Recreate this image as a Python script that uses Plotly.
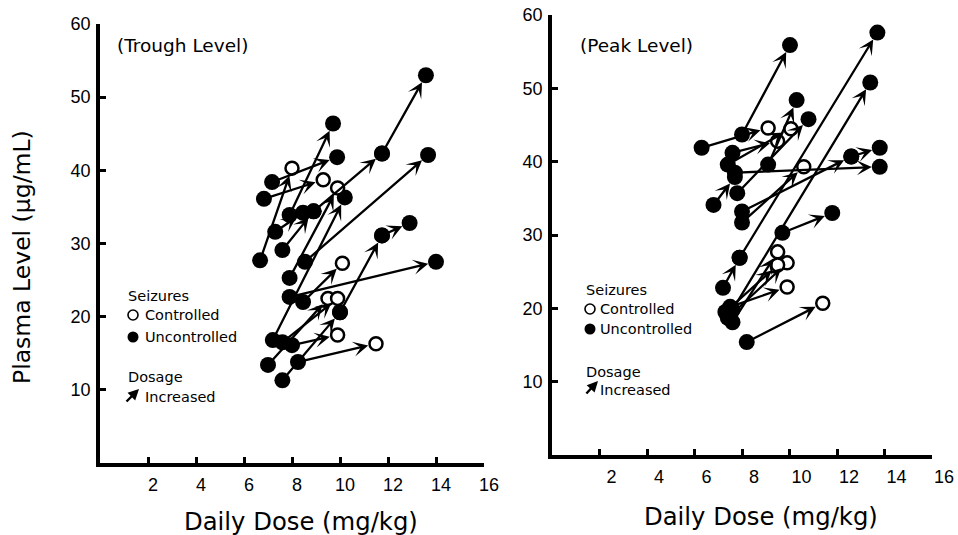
import plotly.graph_objects as go

# ---------------- DATA ----------------
# Trough level panel: each arrow = dose increase (start -> end)
trough_x0 = [6.67, 6.83, 7.17, 7.90, 7.30, 7.60, 8.90, 11.75, 8.54, 11.75, 10.0, 7.90, 7.20, 8.00, 8.46, 7.00, 7.60, 8.25, 7.90, 7.60]
trough_y0 = [27.7, 36.1, 38.4, 33.9, 31.6, 29.1, 34.4, 42.3, 27.5, 31.1, 20.6, 22.7, 16.8, 16.1, 22.0, 13.4, 11.3, 13.8, 25.3, 16.5]
trough_x1 = [8.00, 9.30, 9.88, 9.71, 8.46, 8.90, 11.75, 13.58, 13.67, 12.90, 11.75, 14.00, 10.20, 9.90, 10.10, 9.50, 10.00, 11.50, 9.90, 9.90]
trough_y1 = [40.3, 38.7, 41.8, 46.4, 34.2, 34.4, 42.3, 53.0, 42.1, 32.8, 31.1, 27.5, 36.3, 17.5, 27.3, 22.5, 20.6, 16.3, 37.6, 22.5]
trough_end_controlled = [True, True, False, False, False, False, False, False, False, False, False, False, False, True, True, True, False, True, True, True]

# Peak level panel
peak_x0 = [8.2, 7.5, 7.4, 7.6, 7.3, 7.2, 7.9, 7.6, 9.7, 8.0, 8.0, 12.6, 7.7, 6.8, 6.3, 7.6, 8.0, 9.1, 7.4, 7.8]
peak_y0 = [15.4, 20.2, 18.7, 18.1, 19.5, 22.8, 26.9, 19.8, 30.3, 31.7, 33.2, 40.7, 38.5, 34.1, 41.9, 41.2, 43.7, 39.6, 39.6, 35.7]
peak_x1 = [11.4, 9.9, 9.9, 9.5, 9.5, 7.9, 13.7, 13.4, 11.8, 10.6, 12.6, 13.8, 13.8, 7.7, 9.1, 9.5, 10.02, 10.3, 10.06, 10.8]
peak_y1 = [20.7, 22.9, 26.2, 27.7, 25.9, 26.9, 57.6, 50.8, 33.0, 39.3, 40.7, 41.9, 39.3, 37.9, 44.6, 42.8, 55.9, 48.4, 44.5, 45.8]
peak_end_controlled = [True, True, True, True, True, False, False, False, False, True, False, False, False, False, True, True, False, False, True, False]

x_ticks = [2, 4, 6, 8, 10, 12, 14, 16]
y_ticks = [10, 20, 30, 40, 50, 60]

panel_titles = ["(Trough Level)", "(Peak Level)"]
x_title = "Daily Dose (mg/kg)"
y_title = "Plasma Level (µg/mL)"

# ---------------- FIGURE ----------------
W, H = 958, 535
FONT = "Liberation Sans, Arial, Helvetica, sans-serif"
TFONT = "DejaVu Sans, sans-serif"

fig = go.Figure()

def px_x(p):
    return p / W

def px_y(p):
    return (H - p) / H

panels = [
    dict(xa="x", ya="y", x0=trough_x0, y0=trough_y0, x1=trough_x1, y1=trough_y1, ctrl=trough_end_controlled),
    dict(xa="x2", ya="y2", x0=peak_x0, y0=peak_y0, x1=peak_x1, y1=peak_y1, ctrl=peak_end_controlled),
]

annotations = []
shapes = []
for p in panels:
    for a, b, c, d, ctl in zip(p["x0"], p["y0"], p["x1"], p["y1"], p["ctrl"]):
        annotations.append(dict(
            x=c, y=d, ax=a, ay=b, xref=p["xa"], yref=p["ya"], axref=p["xa"], ayref=p["ya"],
            showarrow=True, arrowhead=3, arrowsize=1.1, arrowwidth=2.3, arrowcolor="black",
            standoff=8, text=""))
    filled_x = list(p["x0"]) + [c for c, ctl in zip(p["x1"], p["ctrl"]) if not ctl]
    filled_y = list(p["y0"]) + [d for d, ctl in zip(p["y1"], p["ctrl"]) if not ctl]
    open_x = [c for c, ctl in zip(p["x1"], p["ctrl"]) if ctl]
    open_y = [d for d, ctl in zip(p["y1"], p["ctrl"]) if ctl]
    fig.add_trace(go.Scatter(x=filled_x, y=filled_y, mode="markers", xaxis=p["xa"], yaxis=p["ya"],
                             marker=dict(size=16, color="black"), showlegend=False, hoverinfo="skip"))
    fig.add_trace(go.Scatter(x=open_x, y=open_y, mode="markers", xaxis=p["xa"], yaxis=p["ya"],
                             marker=dict(size=13, color="white", line=dict(color="black", width=2.5)),
                             showlegend=False, hoverinfo="skip"))

axis_common = dict(showgrid=False, zeroline=False, showline=True, linecolor="black", linewidth=3.5,
                   ticks="inside", tickcolor="black", tickwidth=3, ticklen=6,
                   tickfont=dict(family=FONT, size=18, color="black"))

fig.update_layout(
    width=W, height=H, autosize=False,
    margin=dict(l=0, r=0, t=0, b=0, pad=0, autoexpand=False),
    paper_bgcolor="white", plot_bgcolor="white",
    xaxis=dict(domain=[px_x(100), px_x(484)], range=[0, 16], tickvals=x_ticks, anchor="y",
               ticklabelshift=5, ticklabelstandoff=3, **axis_common),
    yaxis=dict(domain=[px_y(463), px_y(24)], range=[0, 60], tickvals=y_ticks, anchor="x",
               ticklabelstandoff=2, **axis_common),
    xaxis2=dict(domain=[px_x(552), px_x(932)], range=[0, 16], tickvals=x_ticks, anchor="y2",
                ticklabelshift=12, ticklabelstandoff=3, **axis_common),
    yaxis2=dict(domain=[px_y(455), px_y(15)], range=[0, 60], tickvals=y_ticks, anchor="x2",
                ticklabelstandoff=2, **axis_common),
)

def txt(x, y, s, size, xanchor="left", angle=0):
    annotations.append(dict(x=px_x(x), y=px_y(y), xref="paper", yref="paper", text=s, showarrow=False,
                            xanchor=xanchor, yanchor="middle", textangle=angle,
                            font=dict(family=TFONT, size=size, color="black")))

def circ(cx, cy, r, filled):
    shapes.append(dict(type="circle", xref="paper", yref="paper",
                       x0=px_x(cx - r), x1=px_x(cx + r), y0=px_y(cy + r), y1=px_y(cy - r),
                       fillcolor="black" if filled else "white",
                       line=dict(color="black", width=0 if filled else 1.6)))

# axis titles
txt(22, 257, y_title, 23.5, xanchor="center", angle=-90)
txt(301, 521, x_title, 24.3, xanchor="center")
txt(761, 516, x_title, 24.3, xanchor="center")
# panel titles
txt(115, 45, panel_titles[0], 18.5)
txt(578, 45, panel_titles[1], 18.5)

# in-plot keys
keys = [
    dict(lx=126, ys=296, yc=315, yu=337, yd=377, yi=397, cx=133, tx=143, arr=(139, 389, -14, 14)),
    dict(lx=584, ys=290, yc=309, yu=329, yd=372, yi=390, cx=590, tx=598, arr=(598, 381, -13, 14)),
]
for k in keys:
    txt(k["lx"], k["ys"], "Seizures", 14.5)
    circ(k["cx"], k["yc"], 5, False)
    txt(k["tx"], k["yc"], "Controlled", 14.5)
    circ(k["cx"], k["yu"], 5.5, True)
    txt(k["tx"], k["yu"], "Uncontrolled", 14.5)
    txt(k["lx"], k["yd"], "Dosage", 14.5)
    hx, hy, dx, dy = k["arr"]
    annotations.append(dict(x=px_x(hx), y=px_y(hy), ax=dx, ay=dy,
                            xref="paper", yref="paper", axref="pixel", ayref="pixel",
                            showarrow=True, arrowhead=2, arrowsize=0.9, arrowwidth=2.4, arrowcolor="black",
                            text=""))
    txt(k["tx"], k["yi"], "Increased", 14.5)

fig.update_layout(annotations=annotations, shapes=shapes)
fig.write_html("out.html")
